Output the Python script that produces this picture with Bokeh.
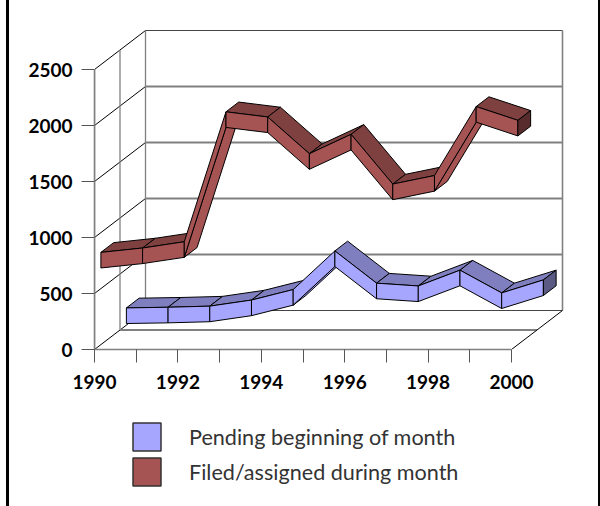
from bokeh.plotting import figure
from bokeh.layouts import column
from bokeh.models import Range1d, LinearAxis, FixedTicker, Legend, LegendItem
from bokeh.embed import file_html
from bokeh.resources import INLINE

years = [1990, 1991, 1992, 1993, 1994, 1995, 1996, 1997, 1998, 1999, 2000]
pending = [84, 90, 100, 154, 248, 593, 305, 280, 421, 218, 334]
filed = [754, 793, 849, 2009, 1963, 1635, 1808, 1364, 1440, 2056, 1933]
value_ticks = [0, 500, 1000, 1500, 2000, 2500]
year_labels = {1990: "1990", 1991: " ", 1992: "1992", 1993: " ", 1994: "1994", 1995: " ",
               1996: "1996", 1997: " ", 1998: "1998", 1999: " ", 2000: "2000"}
name_pending = "Pending beginning of month"
name_filed = "Filed/assigned during month"

PX_X = 41.7      # pixels per year
PX_Y = 0.112     # pixels per value unit
DEPTH_X = 51 / PX_X
DEPTH_Y = 39 / PX_Y
THICK = 15.6 / PX_Y
BARS = {"background": "linear-gradient(90deg, #fff 6px, #000 6px, #000 9px, #fff 9px, "
                      "#fff 598px, #000 598px)"}
TOP_H = 400

p = figure(width=600, height=TOP_H, output_backend="svg", toolbar_location=None,
           x_axis_location=None, y_axis_location=None,
           x_range=Range1d(1990, 1990 + 506 / PX_X), y_range=Range1d(0, 349 / PX_Y),
           min_border_left=94, min_border_right=0, min_border_top=0, min_border_bottom=TOP_H - 349,
           outline_line_color=None, border_fill_color=None, background_fill_color=None)
p.grid.visible = False
p.styles = BARS


def proj(year, val, z):
    return year + z * DEPTH_X, val + z * DEPTH_Y


GRAY = "#808080"
# walls and floor
y0, y1 = value_ticks[0], value_ticks[-1]
for i, v in enumerate(value_ticks):
    a = proj(years[0], v, 1)
    b = proj(years[-1], v, 1)
    top = v == y1
    bottom = v == y0
    p.line([a[0], b[0]], [a[1], b[1]], line_color="#444444" if (top or bottom) else GRAY,
           line_width=1.2 if (top or bottom) else 1.8)
    c = proj(years[0], v, 0)
    p.line([c[0], a[0]], [c[1], a[1]], line_color="#000000", line_width=1)
for z in (0, 0.5, 1):
    a = proj(years[0], y0, z)
    b = proj(years[0], y1, z)
    p.line([a[0], b[0]], [a[1], b[1]], line_color=GRAY, line_width=1.3)
a = proj(years[-1], y0, 1)
b = proj(years[-1], y1, 1)
p.line([a[0], b[0]], [a[1], b[1]], line_color=GRAY, line_width=1.6)
a = proj(years[0], y0, 0.5)
b = proj(years[-1], y0, 0.5)
p.line([a[0], b[0]], [a[1], b[1]], line_color=GRAY, line_width=1.8)
a = proj(years[-1], y0, 0)
b = proj(years[-1], y0, 1)
p.line([a[0], b[0]], [a[1], b[1]], line_color="#000000", line_width=1)


def ribbon(values, z0, z1, front, top, end):
    xs, ys, colors = [], [], []

    def face(pts, col):
        xs.append([q[0] for q in pts])
        ys.append([q[1] for q in pts])
        colors.append(col)

    for i in range(len(years) - 1):
        x_a, x_b = years[i], years[i + 1]
        v_a, v_b = values[i], values[i + 1]
        up_a, up_b = v_a + THICK / 2, v_b + THICK / 2
        lo_a, lo_b = v_a - THICK / 2, v_b - THICK / 2
        slope_px = (v_b - v_a) * PX_Y / ((x_b - x_a) * PX_X)
        if slope_px > 39 / 51:   # steep rise: the underside shows
            face([proj(x_a, lo_a, z0), proj(x_b, lo_b, z0), proj(x_b, lo_b, z1), proj(x_a, lo_a, z1)], front)
        else:
            face([proj(x_a, up_a, z0), proj(x_b, up_b, z0), proj(x_b, up_b, z1), proj(x_a, up_a, z1)], top)
        face([proj(x_a, up_a, z0), proj(x_b, up_b, z0), proj(x_b, lo_b, z0), proj(x_a, lo_a, z0)], front)
    up, lo = values[-1] + THICK / 2, values[-1] - THICK / 2
    face([proj(years[-1], up, z0), proj(years[-1], up, z1), proj(years[-1], lo, z1), proj(years[-1], lo, z0)], end)
    p.patches(xs, ys, fill_color=colors, line_color="#000000", line_width=1, line_join="round")


ribbon(pending, 0.625, 0.875, "#A6A6FF", "#7F7FC0", "#5A5A85")
ribbon(filed, 0.125, 0.375, "#A65353", "#7F4040", "#582C2C")

# axes
FONT = "Lato"
yax = LinearAxis(ticker=FixedTicker(ticks=value_ticks), bounds=(y0, y1))
xax = LinearAxis(ticker=FixedTicker(ticks=years), bounds=(years[0], years[-1]),
                 major_label_overrides=year_labels)
for ax in (xax, yax):
    ax.axis_line_color = GRAY
    ax.axis_line_width = 1.6
    ax.major_tick_line_color = "#555555"
    ax.major_tick_line_width = 1
    ax.major_tick_in = 0
    ax.major_tick_out = 13
    ax.minor_tick_line_color = None
    ax.major_label_text_font = FONT
    ax.major_label_text_font_style = "bold"
    ax.major_label_text_font_size = "19px"
    ax.major_label_text_color = "#000000"
xax.major_label_standoff = 7
yax.major_label_standoff = 9
p.add_layout(yax, "left")
p.add_layout(xax, "below")

# legend panel: the swatch renderers sit outside the range, only the legend shows them
q = figure(width=600, height=506 - TOP_H, output_backend="svg", toolbar_location=None,
           x_axis_location=None, y_axis_location=None, x_range=Range1d(0, 1), y_range=Range1d(0, 1),
           min_border=0, outline_line_color=None, border_fill_color=None, background_fill_color=None)
q.grid.visible = False
q.styles = BARS
sw_pending = q.quad(left=[2], right=[3], bottom=[2], top=[3], fill_color="#A6A6FF",
                    line_color="#333333", line_width=1.5)
sw_filed = q.quad(left=[2], right=[3], bottom=[2], top=[3], fill_color="#A65353",
                  line_color="#333333", line_width=1.5)
legend = Legend(items=[LegendItem(label=name_pending, renderers=[sw_pending]),
                       LegendItem(label=name_filed, renderers=[sw_filed])],
                location=(35, 17), orientation="vertical", background_fill_alpha=0,
                border_line_color=None, glyph_width=35, glyph_height=35, label_height=35,
                spacing=0, label_standoff=25, padding=0, margin=0,
                label_text_font=FONT, label_text_font_size="21.6px", label_text_color="#333333")
q.add_layout(legend)

open("out.html", "w").write(file_html(column(p, q, spacing=0), INLINE))
